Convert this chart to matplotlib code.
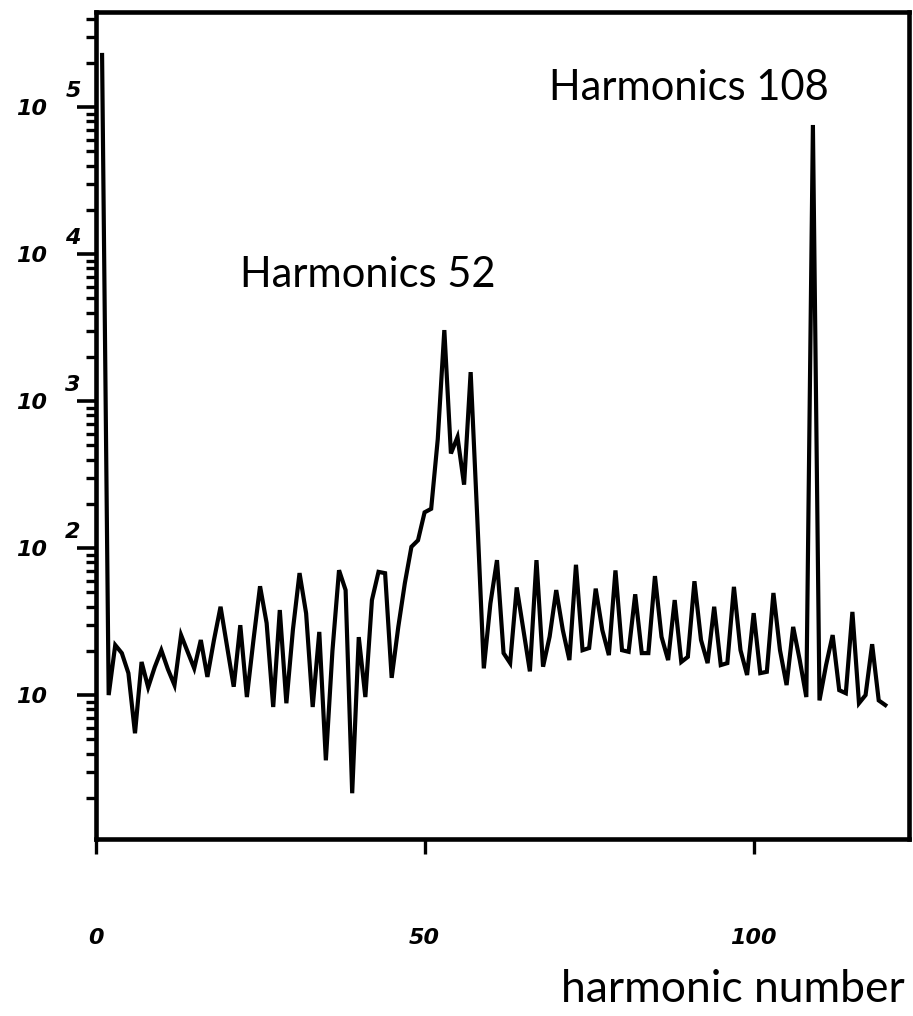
import numpy as np
import matplotlib
matplotlib.use("Agg")
import matplotlib.pyplot as plt
from matplotlib import transforms
from matplotlib.font_manager import FontProperties
from matplotlib.ticker import FixedLocator, FuncFormatter, LogLocator, NullFormatter

# Spectrum amplitude per harmonic (log scale)
harmonics = np.arange(1, 121)
amplitude = [
    226000, 10.0, 21.9, 19.3, 14.1, 5.5, 16.8, 11.3, 15.5, 20.2,
    15.0, 11.7, 25.6, 19.7, 15.2, 23.7, 13.3, 23.7, 39.9, 21.3,
    11.4, 29.9, 9.7, 23.7, 55.0, 30.9, 8.3, 37.9, 8.8, 28.0,
    67.6, 36.0, 8.3, 26.9, 3.6, 20.0, 70.7, 51.8, 2.15, 24.8,
    9.7, 44.3, 68.9, 67.5, 13.1, 29.0, 57.7, 102, 113, 175,
    185, 550, 3040, 440, 569, 270, 1574, 162, 15.2, 42.0,
    82.8, 19.3, 16.5, 54.0, 28.0, 14.5, 82.8, 15.6, 25.0, 51.8,
    27.7, 17.3, 77.0, 20.2, 20.9, 53.0, 27.7, 18.7, 70.5, 20.2,
    19.7, 48.5, 19.3, 19.3, 64.5, 24.9, 17.3, 44.3, 16.8, 18.2,
    59.5, 23.7, 16.5, 39.9, 16.0, 16.5, 54.5, 20.2, 13.7, 36.1,
    14.1, 14.4, 49.5, 20.2, 11.7, 29.1, 17.3, 9.7, 75500, 9.2,
    16.0, 25.6, 10.8, 10.3, 36.8, 8.8, 10.0, 22.2, 9.2, 8.55,
]

x_ticks = [0, 50, 100]
x_tick_labels = ["0", "50", "100"]
decades = [1e1, 1e2, 1e3, 1e4, 1e5]
decade_exponents = ["", "2", "3", "4", "5"]

annotations = [("Harmonics 52", 41.3, 7200), ("Harmonics 108", 90.2, 1.35e5)]

W, H = 913, 1016
fig = plt.figure(figsize=(W / 100, H / 100), dpi=100)
ax = fig.add_axes([95.5 / W, 177 / H, (909 - 95.5) / W, (839 - 12) / H])

ax.plot(harmonics, amplitude, color="black", lw=3.0, solid_joinstyle="miter")

ax.set_yscale("log")
ax.set_xlim(0, 123.6)
ax.set_ylim(1.05, 4.43e5)

for s in ax.spines.values():
    s.set_linewidth(3.3)
    s.set_color("black")

tick_font = dict(family="DejaVu Sans", weight="bold", style="italic", size=16)
tick_fp = FontProperties(**tick_font)

ax.xaxis.set_major_locator(FixedLocator(x_ticks))
ax.set_xticklabels(x_tick_labels)
ax.yaxis.set_major_locator(FixedLocator(decades))
ax.yaxis.set_major_formatter(FuncFormatter(lambda v, p: "10"))
ax.yaxis.set_minor_locator(LogLocator(base=10, subs=np.arange(2, 10)))
ax.yaxis.set_minor_formatter(NullFormatter())

ax.tick_params(axis="y", which="major", direction="out", length=14, width=2.6, pad=21)
ax.tick_params(axis="y", which="minor", direction="out", length=7.5, width=2.4)
ax.tick_params(axis="x", which="major", direction="out", length=11, width=2.4, pad=53)
ax.tick_params(axis="x", which="minor", length=0)
for lab in ax.get_yticklabels() + ax.get_xticklabels():
    lab.set_fontproperties(tick_fp)

# exponents drawn above and to the right of each "10"
exp_trans = transforms.offset_copy(
    transforms.blended_transform_factory(fig.transFigure, ax.transData),
    fig=fig, x=0, y=16, units="dots")
for val, ex in zip(decades, decade_exponents):
    if ex:
        ax.text(73 / W, val, ex, transform=exp_trans, ha="center", va="center",
                clip_on=False, fontproperties=tick_fp)

for txt, xv, yv in annotations:
    ax.text(xv, yv, txt, family="Lato", fontsize=30, ha="center", va="center")

ax.set_xlabel("harmonic number", family="Lato", fontsize=32)
ax.xaxis.label.set_ha("right")
ax.xaxis.label.set_va("center")
ax.xaxis.set_label_coords((905 - 95.5) / (909 - 95.5), -(990 - 839) / (839 - 12))

fig.savefig("out.png", dpi=100, facecolor="white")
